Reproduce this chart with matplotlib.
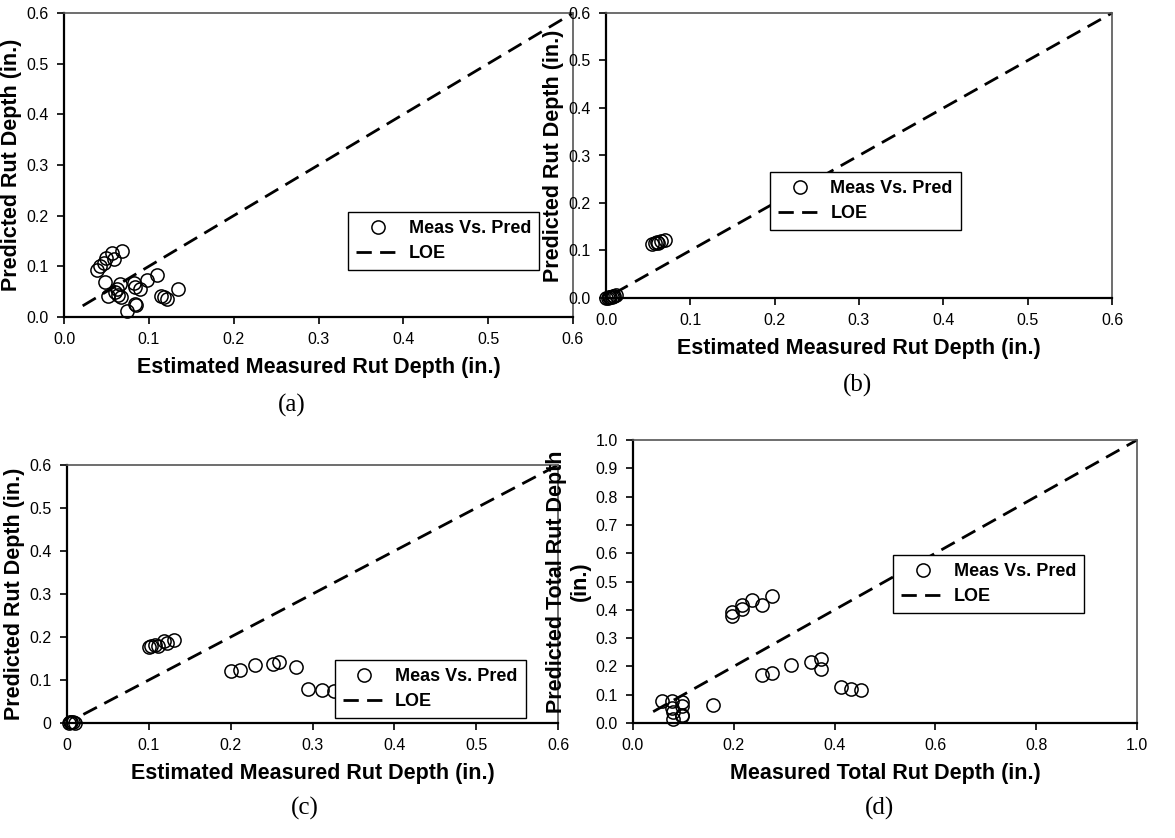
import numpy as np
import matplotlib
matplotlib.use("Agg")
import matplotlib.pyplot as plt

plt.rcParams['font.family'] = ['Liberation Sans', 'DejaVu Sans']

# Panel (a) data
a_meas = [0.039, 0.042, 0.047, 0.050, 0.056, 0.059, 0.068,
          0.048, 0.052, 0.060, 0.064, 0.066, 0.067, 0.062, 0.074, 0.082, 0.084,
          0.084, 0.085, 0.090, 0.098, 0.110, 0.114, 0.118, 0.122, 0.134]
a_pred = [0.093, 0.100, 0.107, 0.117, 0.126, 0.115, 0.131,
          0.069, 0.042, 0.049, 0.044, 0.066, 0.039, 0.056, 0.011, 0.068, 0.060,
          0.026, 0.023, 0.056, 0.074, 0.082, 0.042, 0.039, 0.036, 0.055]

# Panel (b) data
b_meas = [0.055, 0.058, 0.060, 0.062, 0.065, 0.070,
          0.000, 0.002, 0.003, 0.005, 0.007, 0.008, 0.010, 0.012]
b_pred = [0.113, 0.115, 0.117, 0.116, 0.120, 0.122,
          0.000, 0.001, 0.002, 0.002, 0.003, 0.004, 0.005, 0.006]

# Panel (c) data
c_meas = [0.100, 0.103, 0.108, 0.111, 0.118, 0.122, 0.131,
          0.200, 0.211, 0.230, 0.252, 0.259, 0.280, 0.294, 0.312, 0.326,
          0.002, 0.004, 0.005, 0.007, 0.010]
c_pred = [0.176, 0.178, 0.182, 0.180, 0.190, 0.186, 0.192,
          0.121, 0.123, 0.135, 0.138, 0.143, 0.130, 0.080, 0.076, 0.074,
          0.001, 0.002, 0.003, 0.002, 0.001]

# Panel (d) data
d_meas = [0.057, 0.077, 0.077, 0.079, 0.080, 0.097, 0.097, 0.098, 0.097, 0.158,
          0.196, 0.196, 0.216, 0.216, 0.237, 0.255, 0.276,
          0.255, 0.276, 0.314, 0.354, 0.374, 0.374, 0.413, 0.432, 0.452]
d_pred = [0.079, 0.076, 0.052, 0.014, 0.038, 0.073, 0.028, 0.061, 0.024, 0.065,
          0.391, 0.379, 0.416, 0.402, 0.434, 0.418, 0.447,
          0.169, 0.176, 0.206, 0.214, 0.226, 0.191, 0.126, 0.120, 0.117]

W, H = 1175, 838
fig = plt.figure(figsize=(W / 100, H / 100), dpi=100)


def make_ax(l, t, r, b):
    return fig.add_axes([l / W, 1 - b / H, (r - l) / W, (b - t) / H])


def style(ax, xmax, ymax, xstep, ystep, xfmt, yfmt, xlabel, ylabel, loe, leg_pos):
    ax.set_xlim(0, xmax)
    ax.set_ylim(0, ymax)
    xt = np.arange(0, xmax + 1e-9, xstep)
    yt = np.arange(0, ymax + 1e-9, ystep)
    ax.set_xticks(xt)
    ax.set_yticks(yt)
    ax.set_xticklabels([xfmt(v) for v in xt])
    ax.set_yticklabels([yfmt(v) for v in yt])
    ax.tick_params(direction='out', length=5, width=1.2, labelsize=11.5, pad=6)
    for s in ['left', 'bottom']:
        ax.spines[s].set_linewidth(1.6)
        ax.spines[s].set_color('black')
    for s in ['top', 'right']:
        ax.spines[s].set_linewidth(1.2)
        ax.spines[s].set_color('#555555')
    ax.set_xlabel(xlabel, fontsize=15.5, fontweight='bold', labelpad=7)
    ax.set_ylabel(ylabel, fontsize=15.5, fontweight='bold', labelpad=3)
    ax.plot(loe, loe, color='black', lw=2, dashes=(5.5, 3), label='LOE',
            clip_on=False, zorder=2)
    leg = ax.legend(loc='upper left', bbox_to_anchor=leg_pos, frameon=True,
                    fancybox=False, prop={'weight': 'bold', 'size': 13},
                    handlelength=2.4, handletextpad=0.5, borderpad=0.45,
                    labelspacing=0.45, borderaxespad=0, framealpha=1)
    leg.get_frame().set_edgecolor('black')
    leg.get_frame().set_linewidth(1)


def scatter(ax, x, y):
    ax.plot(x, y, 'o', mfc='none', mec='black', ms=9.5, mew=1.1,
            label='Meas Vs. Pred', clip_on=False, zorder=3)


f1 = lambda v: f"{v:.1f}"
fg = lambda v: "0" if abs(v) < 1e-9 else f"{v:.1f}"

xl_est = 'Estimated Measured Rut Depth (in.)'
yl_pred = 'Predicted Rut Depth (in.)'

ax = make_ax(64, 13, 573, 317)
scatter(ax, a_meas, a_pred)
style(ax, 0.6, 0.6, 0.1, 0.1, f1, f1, xl_est, yl_pred, [0.022, 0.6], (0.558, 0.345))

ax = make_ax(606, 13, 1112, 298)
scatter(ax, b_meas, b_pred)
style(ax, 0.6, 0.6, 0.1, 0.1, f1, f1, xl_est, yl_pred, [0.01, 0.6], (0.324, 0.442))

ax = make_ax(67, 465, 558, 723)
scatter(ax, c_meas, c_pred)
style(ax, 0.6, 0.6, 0.1, 0.1, fg, fg, xl_est, yl_pred, [0.02, 0.6], (0.545, 0.244))

ax = make_ax(633, 440, 1137, 723)
scatter(ax, d_meas, d_pred)
style(ax, 1.0, 1.0, 0.2, 0.1, f1, f1, 'Measured Total Rut Depth (in.)',
      'Predicted Total Rut Depth\n(in.)', [0.04, 1.0], (0.516, 0.594))

for x, y, t in [(292, 405, '(a)'), (858, 385, '(b)'), (305, 808, '(c)'), (880, 808, '(d)')]:
    fig.text(x / W, 1 - y / H, t, ha='center', va='center', fontsize=18,
             family='Liberation Serif')

fig.savefig('out.png', dpi=100)
